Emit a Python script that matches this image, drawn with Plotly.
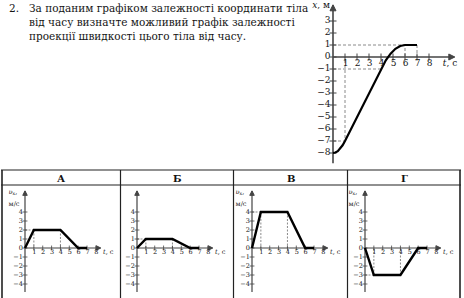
import plotly.graph_objects as go

W, H = 464, 298

# ---------------- data ----------------
main_t = [0, 0.2, 0.4, 0.6, 0.8, 1, 4, 4.4, 4.8, 5.2, 5.6, 6, 7]
main_x = [-8, -7.96, -7.84, -7.64, -7.36, -7, -1, -0.28, 0.28, 0.68, 0.92, 1, 1]
main_xticks = [3, 2, 1, 0, -1, -2, -3, -4, -5, -6, -7, -8]
main_tticks = [1, 2, 3, 4, 5, 6, 7, 8]

panel_names = ["А", "Б", "В", "Г"]
panel_t = [0, 1, 4, 6, 7]
panel_v = {
    "А": [0, 2, 2, 0, 0],
    "Б": [0, 1, 1, 0, 0],
    "В": [0, 4, 4, 0, 0],
    "Г": [0, -3, -3, 0, 0],
}
panel_vticks = [4, 3, 2, 1, 0, -1, -2, -3, -4]
panel_tticks = [1, 2, 3, 4, 5, 6, 7, 8]

question = ["За поданим графіком залежності координати тіла",
            "від часу визначте можливий графік залежності",
            "проекції швидкості цього тіла від часу."]

SERIF = "DejaVu Serif, Liberation Serif, serif"
AX = "#444444"
DASH = "#8a8a8a"
TXT = "#151515"

fig = go.Figure()
layout = dict(width=W, height=H, margin=dict(l=0, r=0, t=0, b=0),
              paper_bgcolor="white", plot_bgcolor="rgba(0,0,0,0)",
              showlegend=False, annotations=[], shapes=[])


def add_axes(idx, px0, px1, py0, py1, ox, oy, sx, sy):
    xr = [(px0 - ox) / sx, (px1 - ox) / sx]
    yr = [(oy - py1) / sy, (oy - py0) / sy]
    sfx = "" if idx == 1 else str(idx)
    layout["xaxis" + sfx] = dict(domain=[px0 / W, px1 / W], range=xr, visible=False,
                                 fixedrange=True, anchor="y" + sfx)
    layout["yaxis" + sfx] = dict(domain=[1 - py1 / H, 1 - py0 / H], range=yr, visible=False,
                                 fixedrange=True, anchor="x" + sfx)
    return "x" + sfx, "y" + sfx


def line(xa, ya, xs, ys, color="black", width=1, dash=None):
    fig.add_trace(go.Scatter(x=xs, y=ys, mode="lines", xaxis=xa, yaxis=ya,
                             line=dict(color=color, width=width, dash=dash),
                             hoverinfo="skip", cliponaxis=False))


def text(xa, ya, xs, ys, labels, pos, size):
    fig.add_trace(go.Scatter(x=xs, y=ys, mode="text", xaxis=xa, yaxis=ya, text=labels,
                             textposition=pos, cliponaxis=False, hoverinfo="skip",
                             textfont=dict(family=SERIF, size=size, color=TXT)))


def marks(xa, ya, xs, ys, symbol, size, color=AX, lw=1):
    fig.add_trace(go.Scatter(x=xs, y=ys, mode="markers", xaxis=xa, yaxis=ya,
                             marker=dict(symbol=symbol, size=size, color=color,
                                         line=dict(color=color, width=lw)),
                             hoverinfo="skip", cliponaxis=False))


def fmt(v):
    return str(v).replace("-", "\u2212")


# ---------------- main graph ----------------
xa, ya = add_axes(1, 290, 464, 0, 168, 333, 57, 12, 12)
line(xa, ya, [0, 6, 6], [1, 1, 0], DASH, 1, "3px,2px")
line(xa, ya, [7, 7], [1, 0], DASH, 1, "3px,2px")
line(xa, ya, [0, 4], [-1, -1], DASH, 1, "3px,2px")
line(xa, ya, [0, 1, 1], [-7, -7, 0], DASH, 1, "3px,2px")
line(xa, ya, [0, 0], [-8.85, 4.3], AX, 1.6)
line(xa, ya, [0, 10.1], [0, 0], AX, 1.4)
marks(xa, ya, [0], [4.35], "arrow-up", 6, AX)
marks(xa, ya, [10.15], [0], "arrow-right", 6, AX)
marks(xa, ya, [0] * len(main_xticks), main_xticks, "line-ew", 5)
marks(xa, ya, main_tticks, [0] * len(main_tticks), "line-ns", 5)
line(xa, ya, main_t, main_x, "black", 2.2)
text(xa, ya, [-0.2] * len(main_xticks), main_xticks, [fmt(v) for v in main_xticks], "middle left", 9)
text(xa, ya, [t + 0.05 for t in main_tticks], [-0.6] * len(main_tticks),
     [str(t) for t in main_tticks], "middle center", 9)
text(xa, ya, [-0.25], [4.25], ["<i>x</i>, м"], "middle left", 9)
text(xa, ya, [9.75], [-0.6], ["<i>t</i>, с"], "middle center", 9)

# ---------------- answer panels ----------------
cols = [(3, 120, 25), (121, 233, 137), (234, 347, 252), (348, 460, 365)]
for i, name in enumerate(panel_names):
    c0, c1, ox = cols[i]
    xa, ya = add_axes(i + 2, c0, c1, 186, 298, ox, 248, 8.86, 9)
    v = panel_v[name]
    vmax = v[1]
    line(xa, ya, [0, 1], [vmax, vmax], DASH, 1, "2px,1.5px")
    line(xa, ya, [1, 1], [vmax, 0], DASH, 1, "2px,1.5px")
    line(xa, ya, [4, 4], [vmax, 0], DASH, 1, "2px,1.5px")
    line(xa, ya, [0, 0], [-4.9, 6.3], AX, 1.2)
    line(xa, ya, [0, 8.5], [0, 0], AX, 1.1)
    marks(xa, ya, [0], [6.35], "arrow-up", 4.5, AX)
    marks(xa, ya, [8.55], [0], "arrow-right", 4.5, AX)
    marks(xa, ya, [0] * len(panel_vticks), panel_vticks, "line-ew", 3.5, AX, 0.8)
    marks(xa, ya, panel_tticks, [0] * len(panel_tticks), "line-ns", 3.5, AX, 0.8)
    line(xa, ya, panel_t, v, "black", 2.4)
    text(xa, ya, [-0.25] * len(panel_vticks), panel_vticks, [fmt(t) for t in panel_vticks],
         "middle left", 6.5)
    text(xa, ya, [t + 0.05 for t in panel_tticks], [-0.5] * len(panel_tticks),
         [str(t) for t in panel_tticks], "middle center", 6.5)
    text(xa, ya, [9.4], [-0.5], ["<i>t</i>, с"], "middle center", 6.5)
    text(xa, ya, [-1.85], [6.2], ["<i>υ</i><sub>x</sub>,"], "middle right", 6.5)
    text(xa, ya, [-1.85], [4.9], ["м/с"], "middle right", 6.5)
    layout["annotations"].append(dict(text="<b>%s</b>" % name, x=(c0 + c1) / 2 / W,
                                      y=1 - 178 / H, xref="paper", yref="paper",
                                      showarrow=False, xanchor="center", yanchor="middle",
                                      font=dict(family=SERIF, size=10, color="#111")))


# ---------------- table rules ----------------
def hrule(py, x0, x1, w=1.2):
    layout["shapes"].append(dict(type="line", xref="paper", yref="paper", x0=x0 / W, x1=x1 / W,
                                 y0=1 - py / H, y1=1 - py / H, line=dict(color="#222", width=w)))


def vrule(px, y0, y1, w=1.2):
    layout["shapes"].append(dict(type="line", xref="paper", yref="paper", x0=px / W, x1=px / W,
                                 y0=1 - y0 / H, y1=1 - y1 / H, line=dict(color="#222", width=w)))


hrule(170, 1, 461)
hrule(185, 1, 461)
for px in [2, 120.5, 233.5, 347.5, 460]:
    vrule(px, 170, 298, 1.6 if px in (2, 460) else 1.2)

# ---------------- question text ----------------
layout["annotations"].append(dict(text="2.", x=7 / W, y=1 - 8 / H, xref="paper", yref="paper",
                                  showarrow=False, xanchor="left", yanchor="middle",
                                  font=dict(family=SERIF, size=10.5, color=TXT)))
for k, s in enumerate(question):
    layout["annotations"].append(dict(text=s, x=27 / W, y=1 - (8 + 14 * k) / H, xref="paper",
                                      yref="paper", showarrow=False, xanchor="left",
                                      yanchor="middle",
                                      font=dict(family=SERIF, size=10.5, color=TXT)))

fig.update_layout(**layout)
fig.write_html("out.html")
